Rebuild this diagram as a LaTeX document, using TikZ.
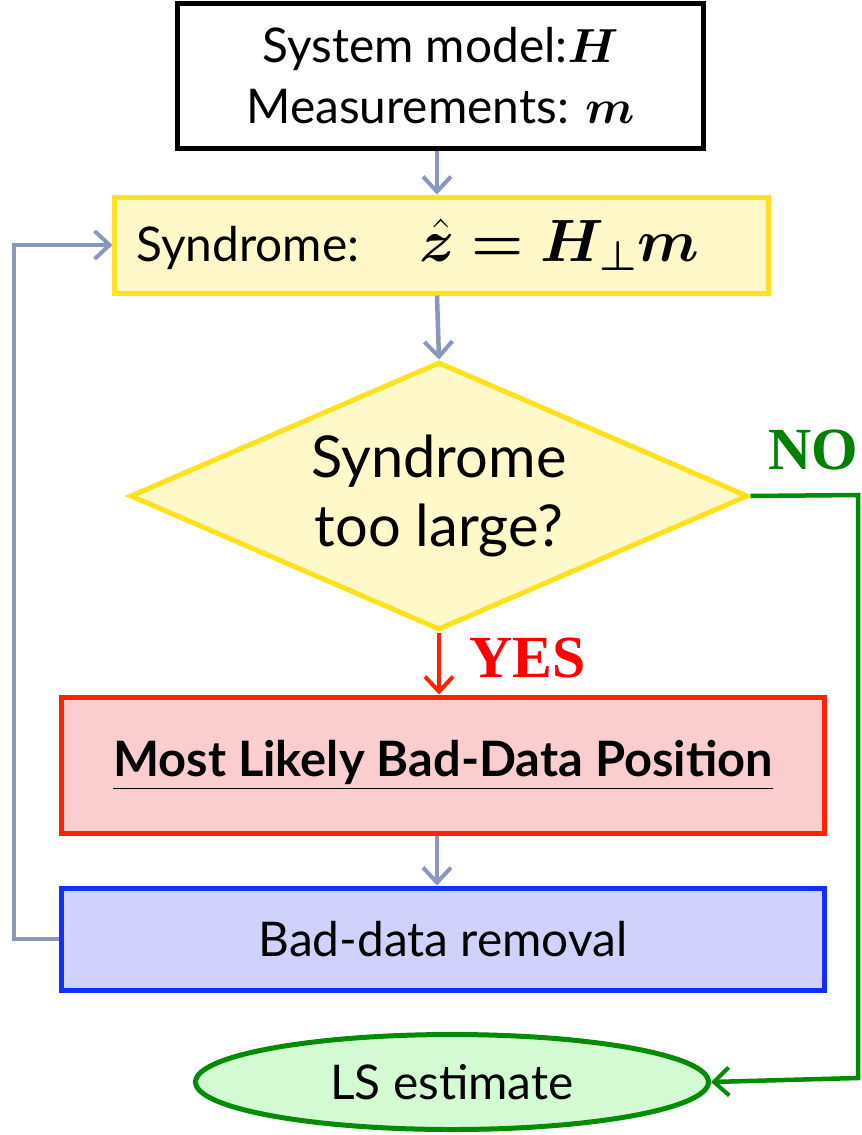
\RequirePackage{fix-cm}
\documentclass[tikz,border=0pt]{standalone}
\usepackage{amsmath,bm}
\usepackage{fontspec}
\setmainfont{Lato}
\newfontfamily\serifb{Liberation Serif}
\usetikzlibrary{arrows.meta,shapes.geometric}
\definecolor{arrowgray}{RGB}{138,151,189}
\definecolor{yborder}{RGB}{255,225,30}
\definecolor{yfill}{RGB}{255,248,200}
\definecolor{rborder}{RGB}{255,35,0}
\definecolor{rfill}{RGB}{250,206,206}
\definecolor{bborder}{RGB}{16,48,255}
\definecolor{bfill}{RGB}{208,210,252}
\definecolor{gline}{RGB}{0,140,0}
\definecolor{gfill}{RGB}{212,250,212}
\definecolor{notext}{RGB}{0,128,0}
\definecolor{yestext}{RGB}{255,0,0}
\tikzset{
  boxbase/.style={rectangle,inner sep=0pt,line width=5bp,align=center,font=\fontsize{48}{58}\selectfont},
  tip/.style={-{Straight Barb[length=15bp,width=28bp,line width=4bp]}},
  conn/.style={line width=4.5bp,tip},
  grayconn/.style={conn,draw=arrowgray},
}
\begin{document}
\begin{tikzpicture}[x=1bp,y=-1bp]
\useasboundingbox (0,0) rectangle (862,1135);
% nodes
\node[boxbase,draw=black,fill=white,minimum width=525bp,minimum height=145bp,
      font=\fontsize{48}{61}\selectfont] (input) at (440.5,75.5)
  {System model:$\bm{H}$\\ Measurements: $\bm{m}$};
\node[boxbase,draw=yborder,fill=yfill,minimum width=653bp,minimum height=96bp] (synd) at (441.5,245)
  {\makebox[610bp][l]{Syndrome:\hspace*{60bp}{\fontsize{60}{64}\selectfont$\bm{\hat{z}=H_{\perp}m}$}}};
\node[diamond,draw=yborder,fill=yfill,line width=5bp,aspect=2.3,inner sep=0pt,
      minimum width=618bp,minimum height=268bp,align=center,
      font=\fontsize{58}{70}\selectfont] (dec) at (439,496) {Syndrome\\too large?};
\node[boxbase,draw=rborder,fill=rfill,minimum width=762bp,minimum height=136bp,
      font=\fontsize{49}{58}\selectfont\bfseries] (pos) at (443,765)
  {\underline{Most Likely Bad-Data Position}};
\node[boxbase,draw=bborder,fill=bfill,minimum width=762bp,minimum height=102bp] (rem) at (443,939)
  {Bad-data removal};
\node[ellipse,draw=gline,fill=gfill,line width=5bp,inner sep=0pt,minimum width=513bp,minimum height=95bp,
      font=\fontsize{48}{58}\selectfont] (ls) at (452,1082) {LS estimate};
\node[font=\serifb\bfseries\fontsize{60}{60}\selectfont,text=notext,inner sep=0pt,anchor=base west] (no) at (768,469) {NO};
\node[font=\serifb\bfseries\fontsize{60}{60}\selectfont,text=yestext,inner sep=0pt,anchor=base west] (yes) at (469,677) {YES};
% coordinates
\coordinate (fbA) at (14,940);
\coordinate (fbB) at (14,245);
\coordinate (noA) at (858,495);
\coordinate (noB) at (858,1078);
% connectors
\draw[grayconn] (input.south -| 437,0) -- (synd.north -| 437,0);
\draw[grayconn] (synd.south -| 437,0) -- (dec.north);
\draw[conn,draw=rborder] (dec.south) -- (pos.north -| dec.south);
\draw[grayconn] (pos.south -| 437,0) -- (rem.north -| 437,0);
\draw[line width=4.5bp,draw=arrowgray,line join=miter,tip]
  (rem.west) -- (rem.west -| fbA) -- (fbB) -- (synd.west);
\draw[line width=4.5bp,draw=gline,line join=miter,tip]
  (dec.east) -- (noA) -- (noB) -- (ls.east);
\end{tikzpicture}
\end{document}
